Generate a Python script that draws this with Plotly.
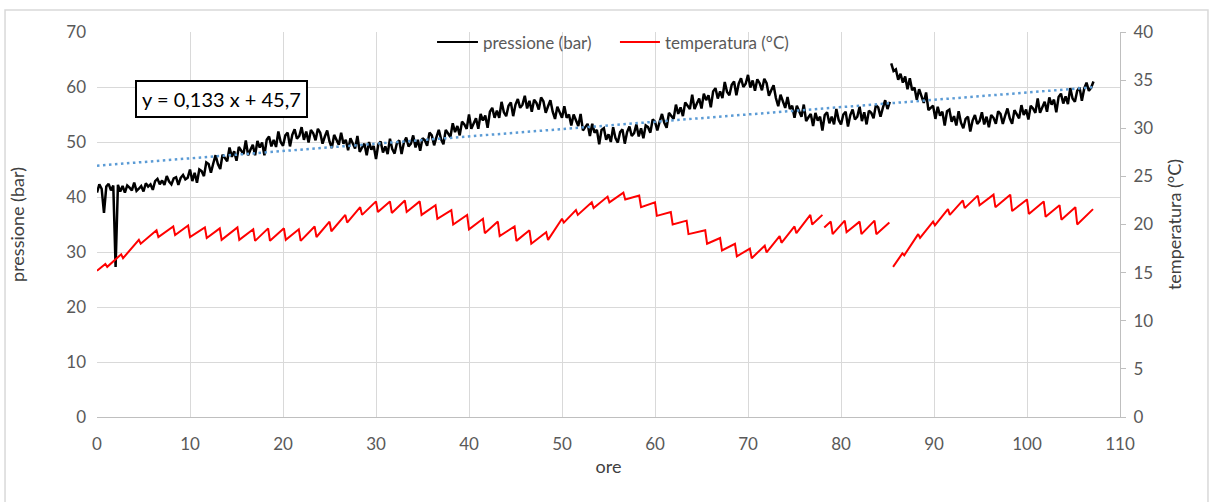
import numpy as np
import plotly.graph_objects as go

# --- pressure log (bar), sampled every 0.25 h ------------------------------
SAMPLE_STEP_H = 0.25

# first run: 0 h .. 85.25 h
pressione_start_a = 0.0
pressione_a = [
    40.8, 42.3, 41.5, 37.1,   41.9, 42.4, 41.2, 42.1,   27.3, 42.2, 41.0, 42.0,
    40.8, 42.1, 41.7, 41.2,   42.6, 41.1, 41.5, 42.0,   41.0, 42.5, 41.9, 42.3,
    41.3, 42.9, 43.3, 42.3,   43.0, 42.2, 43.8, 42.8,   42.3, 43.4, 43.6, 42.2,
    43.5, 44.0, 43.2, 43.5,   45.0, 42.9, 44.4, 42.6,   45.0, 44.7, 43.8, 46.3,
    46.0, 44.4, 46.1, 47.6,   46.0, 45.1, 47.7, 47.2,   46.5, 49.0, 47.3, 48.3,
    46.6, 49.1, 48.5, 47.8,   50.3, 47.6, 48.6, 49.5,   47.6, 50.2, 49.0, 49.9,
    47.6, 50.4, 51.0, 49.2,   50.4, 49.1, 51.9, 50.0,   49.3, 51.2, 51.7, 49.2,
    51.3, 52.3, 50.6, 51.1,   52.7, 50.4, 51.9, 49.9,   52.2, 51.6, 50.3, 52.4,
    51.7, 49.7, 51.0, 52.1,   50.1, 48.9, 51.3, 50.5,   49.5, 51.7, 49.7, 50.4,
    48.5, 50.7, 49.8, 48.8,   51.1, 48.2, 49.0, 49.7,   47.6, 50.0, 48.6, 49.3,
    46.9, 49.6, 50.1, 48.1,   49.2, 47.8, 50.6, 48.7,   47.9, 49.8, 50.3, 47.8,
    49.9, 50.8, 49.2, 49.7,   51.2, 49.0, 50.4, 48.4,   50.7, 50.3, 49.3, 51.7,
    51.2, 49.4, 50.9, 52.2,   50.5, 49.6, 52.2, 51.6,   50.9, 53.4, 51.8, 52.9,
    51.2, 53.7, 53.2, 52.4,   55.0, 52.4, 53.3, 54.3,   52.4, 55.1, 53.9, 54.8,
    52.6, 55.5, 56.2, 54.4,   55.7, 54.4, 57.3, 55.4,   54.7, 56.6, 57.2, 54.7,
    56.8, 57.8, 56.2, 56.8,   58.4, 56.1, 57.5, 55.5,   57.7, 57.1, 55.9, 58.1,
    57.4, 55.3, 56.5, 57.6,   55.5, 54.2, 56.4, 55.5,   54.4, 56.5, 54.4, 55.0,
    53.0, 55.0, 54.1, 52.9,   55.1, 52.1, 52.7, 53.3,   51.1, 53.3, 51.7, 52.2,
    49.6, 52.2, 52.5, 50.4,   51.4, 50.0, 52.7, 50.7,   49.9, 51.8, 52.3, 49.7,
    51.8, 52.8, 51.1, 51.6,   53.2, 51.0, 52.5, 50.7,   53.0, 52.7, 51.7, 54.1,
    53.7, 52.1, 53.7, 55.1,   53.5, 52.6, 55.3, 54.8,   54.2, 56.8, 55.1, 56.3,
    54.7, 57.2, 56.7, 56.0,   58.6, 56.0, 57.0, 57.9,   56.1, 58.8, 57.6, 58.5,
    56.3, 59.2, 59.8, 57.9,   59.2, 58.0, 60.9, 59.1,   58.5, 60.4, 61.0, 58.5,
    60.6, 61.6, 60.0, 60.6,   62.2, 59.9, 61.2, 59.3,   61.4, 60.7, 59.4, 61.5,
    60.7, 58.4, 59.4, 60.3,   58.0, 56.5, 58.6, 57.5,   56.2, 58.2, 56.0, 56.6,
    54.4, 56.6, 55.7, 54.6,   56.8, 53.8, 54.5, 55.1,   52.9, 55.3, 53.9, 54.6,
    52.1, 54.9, 55.4, 53.4,   54.6, 53.2, 56.0, 54.0,   53.2, 55.0, 55.5, 52.8,
    54.9, 55.9, 54.1, 54.6,   56.4, 53.8, 55.4, 53.2,   55.7, 55.3, 54.3, 56.7,
    56.3, 54.6, 56.2, 57.6,   56.0, 57.3,
]

# second run after the restart: 85.4 h .. 107.15 h
pressione_start_b = 85.4
pressione_b = [
    64.3, 62.9, 63.2, 61.3, 62.4, 60.8, 61.9, 59.6, 61.6, 59.4, 59.9, 57.7,
    59.6, 58.5, 57.1, 59.0, 55.8, 56.2, 56.6, 54.2, 56.4, 54.8, 55.5, 53.0,
    55.6, 55.9, 53.7, 54.7, 53.0, 55.6, 53.5, 52.5, 54.2, 54.6, 51.9, 53.9,
    54.9, 53.3, 53.8, 55.4, 53.2, 54.6, 52.7, 54.9, 54.4, 53.3, 55.6, 55.1,
    53.3, 54.8, 56.1, 54.3, 53.3, 55.8, 55.1, 54.3, 56.7, 54.9, 55.9, 54.1,
    56.6, 56.1, 55.3, 57.9, 55.3, 56.3, 57.3, 55.5, 58.1, 56.8, 57.7, 55.4,
    58.2, 58.8, 57.0, 58.3, 56.9, 59.8, 57.9, 57.3, 59.3, 59.9, 57.5, 59.7,
    60.8, 59.3, 59.9, 61.0,
]

# --- temperature log (°C): ramp vertices, None marks a logging break -------
temperatura_ore = [
    0.0, 0.9, 1.1, 2.6, 2.8, 4.5, 4.7, 6.4, 6.6, 8.2, 8.4, 9.8, 10.0,
    11.6, 11.8, 13.2, 13.4, 15.1, 15.3, 16.8, 17.0, 18.4, 18.6, 20.1, 20.3,
    21.7, 21.9, 23.4, 23.6, 25.0, 25.2, 26.7, 26.9, 28.3, 28.5, 30.0, 30.2,
    31.5, 31.7, 33.1, 33.3, 34.7, 34.9, 36.4, 36.6, 38.1, 38.3, 39.8, 40.0,
    41.5, 41.7, 43.1, 43.3, 44.9, 45.1, 46.5, 46.7, 48.3, 48.5, 50.0, 50.2,
    51.5, 51.7, 53.2, 53.4, 54.9, 55.1, 56.6, 56.8, 58.3, 58.5, 60.0, 60.2,
    61.7, 61.9, 63.4, 63.6, 65.4, 65.6, 67.0, 67.2, 68.6, 68.8, 70.2, 70.4,
    71.8, 72.0, 73.4, 73.6, 75.0, 75.2, 76.7, 76.9, 78.0,
    78.1,
    78.2, 78.9, 79.1, 80.4, 80.6, 82.0, 82.2, 83.6, 83.8, 85.2,
    85.4,
    85.6, 86.6, 86.8, 88.3, 88.5, 89.9, 90.1, 91.5, 91.7, 93.1, 93.3,
    94.7, 94.9, 96.4, 96.6, 98.2, 98.4, 100.0, 100.2, 101.8, 102.0,
    103.5, 103.7, 105.2, 105.4, 107.1,
]
temperatura_valori = [
    15.2, 15.9, 15.6, 16.9, 16.5, 18.4, 18.0, 19.4, 18.7, 19.8, 18.9, 19.9, 18.7,
    19.7, 18.6, 19.6, 18.4, 19.7, 18.4, 19.5, 18.3, 19.6, 18.3, 19.6, 18.4,
    19.5, 18.3, 19.8, 18.7, 20.3, 19.3, 21.0, 20.2, 21.8, 21.0, 22.4, 21.3,
    22.4, 21.2, 22.5, 21.3, 22.4, 21.0, 22.0, 20.6, 21.5, 20.0, 21.0, 19.5,
    20.6, 19.1, 20.3, 18.8, 19.8, 18.3, 19.4, 18.0, 19.2, 18.4, 20.6, 20.2,
    21.5, 21.0, 22.3, 21.7, 22.9, 22.3, 23.3, 22.6, 23.0, 21.8, 22.3, 20.9,
    21.3, 20.0, 20.4, 19.0, 19.4, 18.0, 18.6, 17.3, 18.0, 16.7, 17.5, 16.5,
    17.8, 17.1, 18.8, 18.1, 19.8, 19.1, 21.0, 20.0, 21.0,
    None,
    19.7, 20.3, 19.0, 20.4, 19.2, 20.3, 19.0, 20.4, 19.0, 20.2,
    None,
    15.6, 17.0, 16.8, 19.0, 18.6, 20.3, 19.9, 21.6, 21.0, 22.5, 21.7,
    23.0, 22.0, 23.1, 21.8, 23.1, 21.4, 22.6, 21.1, 22.4, 20.8,
    22.0, 20.5, 21.8, 20.0, 21.6,
]

# linear trend of the pressure (Excel-style trendline)
trend_pendenza = 0.133
trend_intercetta = 45.7
trend_ore = [0.0, 107.1]

# legend entries drawn by hand (label, colour)
legenda = [("pressione (bar)", "black"), ("temperatura (°C)", "#ff0000")]

# --- build series -----------------------------------------------------------
ore_a = pressione_start_a + np.arange(len(pressione_a)) * SAMPLE_STEP_H
ore_b = pressione_start_b + np.arange(len(pressione_b)) * SAMPLE_STEP_H
ore_p = list(ore_a) + [None] + list(ore_b)
val_p = pressione_a + [None] + pressione_b
trend_val = [trend_pendenza * t + trend_intercetta for t in trend_ore]

FONT = "Lato, 'Open Sans', sans-serif"
GREY_TXT = "#595959"
TITLE_TXT = "#404040"
GRID = "#d9d9d9"
AXIS = "#bfbfbf"

fig = go.Figure()
fig.add_trace(go.Scatter(
    x=ore_p, y=val_p, mode="lines", name=legenda[0][0], showlegend=False,
    line=dict(color=legenda[0][1], width=2.5), connectgaps=False,
))
fig.add_trace(go.Scatter(
    x=temperatura_ore, y=temperatura_valori, mode="lines",
    name=legenda[1][0], yaxis="y2", showlegend=False,
    line=dict(color=legenda[1][1], width=2), connectgaps=False,
))
fig.add_trace(go.Scatter(
    x=trend_ore, y=trend_val, mode="lines", showlegend=False,
    line=dict(color="#5b9bd5", width=2.5, dash="2.5px,3.5px"),
))

fig.add_annotation(
    x=13.4, y=57.8, xref="x", yref="y",
    text="y = 0,133 x + 45,7", showarrow=False,
    font=dict(family=FONT, size=20, color="black"),
    bgcolor="white", bordercolor="black", borderwidth=2, borderpad=5,
)

# legend row at the top of the plot area: sample line + label
leg_y = 0.974
leg_pos = [(0.3324, 0.3724, 0.3754), (0.5112, 0.5503, 0.5533)]
for (label, colour), (lx0, lx1, tx) in zip(legenda, leg_pos):
    fig.add_shape(type="line", xref="paper", yref="paper",
                  x0=lx0, x1=lx1, y0=leg_y, y1=leg_y,
                  line=dict(color=colour, width=2))
    fig.add_annotation(xref="paper", yref="paper", x=tx, y=leg_y,
                       xanchor="left", yanchor="middle", showarrow=False,
                       text=label, font=dict(family=FONT, size=17, color=GREY_TXT))

# outer chart frame
fig.add_shape(
    type="rect", xref="paper", yref="paper",
    x0=-0.0899, x1=1.0860, y0=-0.235, y1=1.057,
    line=dict(color=GRID, width=1.5), fillcolor="rgba(0,0,0,0)", layer="below",
)

fig.update_layout(
    width=1211, height=502,
    margin=dict(l=97, r=91, t=32, b=85),
    paper_bgcolor="white", plot_bgcolor="white",
    font=dict(family=FONT, size=17, color=GREY_TXT),
    showlegend=False,
    xaxis=dict(
        range=[0, 110], dtick=10, tick0=0,
        showgrid=True, gridcolor=GRID, gridwidth=1,
        zeroline=False, showline=True, linecolor=AXIS, linewidth=1,
        ticks="", ticklabelstandoff=12, tickfont=dict(size=17, color=GREY_TXT),
        title=dict(text="ore", font=dict(size=18, color=TITLE_TXT), standoff=6),
    ),
    yaxis=dict(
        range=[0, 70], dtick=10, tick0=0,
        showgrid=True, gridcolor=GRID, gridwidth=1,
        zeroline=False, showline=False, ticks="", ticklabelstandoff=10,
        tickfont=dict(size=17, color=GREY_TXT),
        title=dict(text="pressione (bar)", font=dict(size=18, color=TITLE_TXT), standoff=36),
    ),
    yaxis2=dict(
        range=[0, 40], dtick=5, tick0=0, overlaying="y", side="right",
        showgrid=False, zeroline=False,
        showline=True, linecolor=AXIS, linewidth=1,
        ticks="outside", ticklen=5, tickcolor=AXIS, ticklabelstandoff=4,
        tickfont=dict(size=17, color=GREY_TXT),
        title=dict(text="temperatura (°C)", font=dict(size=18, color=TITLE_TXT), standoff=16),
    ),
)

fig.write_html("out.html")
